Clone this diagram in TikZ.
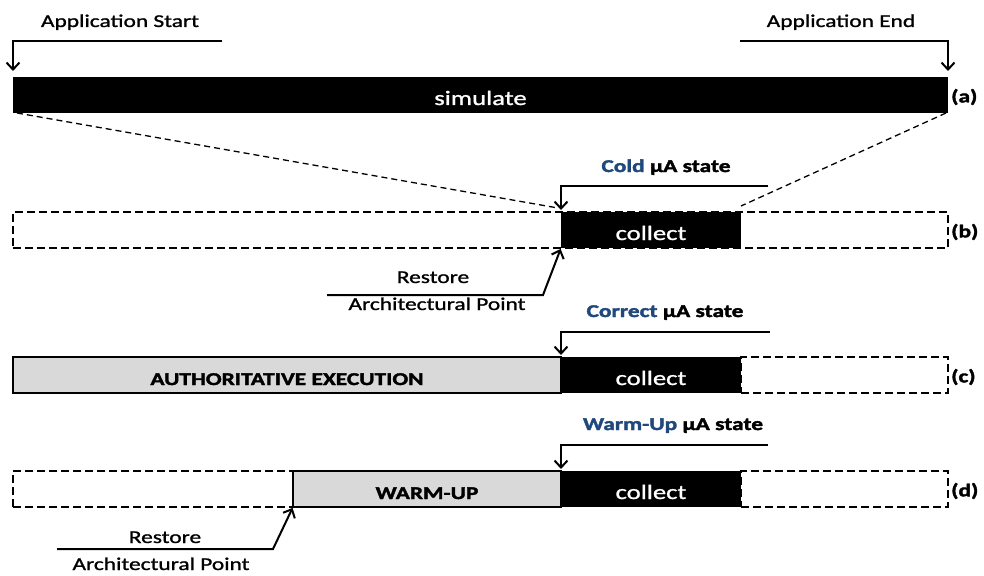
\documentclass[tikz,border=0pt]{standalone}
\usepackage{fontspec}
\setmainfont{Carlito}[FakeStretch=1.3,
  UprightFeatures={FakeBold=1.2},
  BoldFeatures={FakeBold=2}]
\usetikzlibrary{arrows.meta}
\definecolor{stateblue}{RGB}{31,73,125}
\definecolor{phasegray}{RGB}{217,217,217}
\begin{document}
\begin{tikzpicture}[x=1pt,y=-1pt,
  lbl/.style={font=\fontsize{18}{21}\selectfont, inner sep=0pt, anchor=base},
  blbl/.style={font=\fontsize{18}{21}\selectfont\bfseries, inner sep=0pt, anchor=base},
  rowtag/.style={font=\fontsize{18}{21}\selectfont\bfseries, inner sep=0pt, anchor=west},
  seg/.style={minimum height=36pt, inner sep=0pt, outer sep=0pt,
    text height=20pt, text depth=0pt},
  blackseg/.style={seg, fill=black, text=white, font=\fontsize{20.5}{24}\selectfont},
  grayseg/.style={seg, fill=phasegray, draw=black, line width=2pt,
    font=\fontsize{18}{21}\selectfont\bfseries},
  skipseg/.style={seg, draw=black, line width=2pt, dash pattern=on 8pt off 4pt},
  arr/.style={line width=2pt, -{Straight Barb[length=7pt,width=13pt,line width=2pt]}},
  guide/.style={line width=1.3pt, dash pattern=on 6pt off 4pt}]
\useasboundingbox (0,0) rectangle (984,575);

% ---- (a) full run ----
\node[blackseg, minimum width=935pt] (sim) at (480.5,95) {simulate};
\node[rowtag] (taga) at (951,97) {(a)};
\node[lbl] (appstart) at (120,27) {Application Start};
\node[lbl] (append) at (841,27) {Application End};
\coordinate (startR) at (222,41);
\coordinate (endL) at (740,41);
\draw[arr, shorten >=6pt] (startR) -| (sim.north west);
\draw[arr, shorten >=6pt] (endL) -| (sim.north east);

% ---- (b) cold sampling ----
\node[skipseg, minimum width=935pt] (skipb) at (480.5,230) {};
\node[blackseg, minimum width=180pt] (colb) at (651,230) {collect};
\node[rowtag] (tagb) at (951,232) {(b)};
\node[blbl] (coldlbl) at (666,172) {\textcolor{stateblue}{Cold} µA state};
\coordinate (coldR) at (768,186);
\draw[arr, shorten >=2pt] (coldR) -| (colb.north west);
\node[lbl] (restb) at (433,283) {Restore};
\node[lbl] (archb) at (437,310) {Architectural Point};
\coordinate (rbL) at (327,295);
\coordinate (rbR) at (543,295);
\draw[arr, shorten >=1pt] (rbL) -- (rbR) -- (colb.south west);

% zoom guides from (a) to (b)
\draw[guide] ([xshift=4pt]sim.south west) -- ([xshift=-3pt,yshift=4pt]colb.north west);
\draw[guide] ([xshift=-2pt]sim.south east) -- ([yshift=6pt]colb.north east);

% ---- (c) full authoritative run ----
\node[grayseg, minimum width=548pt] (auth) at (287,375) {AUTHORITATIVE EXECUTION};
\node[blackseg, minimum width=180pt] (colc) at (651,375) {collect};
\node[skipseg, minimum width=207pt] (skipc) at (844.5,375) {};
\node[rowtag] (tagc) at (951,377) {(c)};
\node[blbl] (corrlbl) at (665,317) {\textcolor{stateblue}{Correct} µA state};
\coordinate (corrR) at (770,332);
\draw[arr, shorten >=2pt] (corrR) -| (colc.north west);

% ---- (d) warmed-up sampling ----
\node[skipseg, minimum width=280pt] (skipdl) at (153,489) {};
\node[grayseg, minimum width=268pt] (warm) at (427,489) {WARM-UP};
\node[blackseg, minimum width=180pt] (cold) at (651,489) {collect};
\node[skipseg, minimum width=207pt] (skipdr) at (844.5,489) {};
\node[rowtag] (tagd) at (951,491) {(d)};
\node[blbl] (warmlbl) at (673,430) {\textcolor{stateblue}{Warm-Up} µA state};
\coordinate (warmR) at (768,445);
\draw[arr, shorten >=2pt] (warmR) -| (cold.north west);
\node[lbl] (restd) at (165,543) {Restore};
\node[lbl] (archd) at (161,570) {Architectural Point};
\coordinate (rdL) at (57,549);
\coordinate (rdR) at (273,549);
\draw[arr, shorten >=1pt] (rdL) -- (rdR) -- (warm.south west);
\end{tikzpicture}
\end{document}
